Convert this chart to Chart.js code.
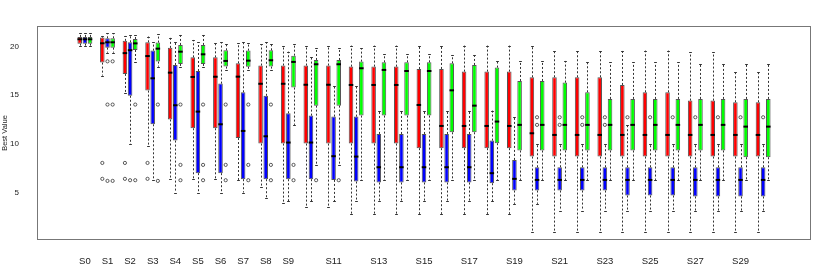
<!DOCTYPE html>
<html>
<head>
<meta charset="utf-8">
<script src="https://cdn.jsdelivr.net/npm/chart.js@4"></script>
<style>
  body { margin: 0; background: #fff; }
  #wrap { width: 830px; height: 273px; }
</style>
</head>
<body>
<div id="wrap"><canvas id="boxChart"></canvas></div>
<script>
/* ===== DATA ===== */
const categories = ["S0","S1","S2","S3","S4","S5","S6","S7","S8","S9","S10","S11","S12","S13","S14","S15",
  "S16","S17","S18","S19","S20","S21","S22","S23","S24","S25","S26","S27","S28","S29","S30"];
const yTicks = [5, 10, 15, 20];

const redLow = [20.0,17.0,15.19,9.8,6.38,6.38,6.42,6.31,5.56,3.99,3.58,3.58,2.83,2.83,2.83,2.83,2.83,2.83,2.83,2.83,
  1.02,1.02,1.02,1.02,1.02,1.02,1.02,1.02,1.02,1.02,1.02];
const redQ1 = [20.27,18.33,17.17,15.46,12.5,11.6,11.6,10.6,10.03,10.03,10.03,10.03,10.03,10.03,10.03,9.56,9.56,9.56,9.56,9.56,
  8.7,8.7,8.7,8.7,8.7,8.7,8.7,8.7,8.7,8.7,8.7];
const redMed = [20.72,20.31,19.3,19.0,17.3,16.86,16.88,16.89,16.16,16.16,16.06,16.06,16.04,16.04,16.04,13.99,11.84,11.84,11.84,11.84,
  11.09,10.92,10.92,10.92,10.92,10.92,10.92,10.92,10.92,10.92,10.92];
const redQ3 = [20.96,20.89,20.56,20.41,19.84,18.87,18.87,18.26,18.03,18.03,18.03,18.03,17.92,17.92,17.92,17.68,17.68,17.41,17.41,17.41,
  16.83,16.83,16.83,16.83,16.04,15.29,15.29,14.44,14.44,14.27,14.27];
const redHigh = [21.33,21.06,21.06,21.0,20.9,20.65,20.31,20.31,20.2,20.07,20.07,20.07,20.07,20.07,20.07,20.07,20.07,20.07,20.07,20.07,
  20.07,19.56,19.56,19.56,19.56,19.56,19.56,19.39,19.39,17.41,17.41];
const redOut = [[],[8.05,6.42],[8.05,6.42],[8.05,6.42],[],[],[],[],[],[],[],[],[],[],[],[],
  [],[],[],[],[],[],[],[],[],[],[],[],[],[],[]];

const blueLow = [20.0,19.35,9.97,6.3,5.02,5.02,5.02,5.02,4.5,4.1,4.1,4.1,4.1,4.1,4.1,4.1,4.1,4.1,4.1,3.86,
  3.86,3.17,3.17,3.17,3.17,3.17,3.17,3.17,3.17,3.17,3.17];
const blueQ1 = [20.27,19.86,14.93,12.01,10.34,7.0,7.0,6.38,6.38,6.38,6.38,6.31,6.14,6.04,6.04,6.04,6.04,6.04,5.97,5.22,
  5.22,5.22,5.22,5.22,4.71,4.71,4.71,4.61,4.61,4.61,4.61];
const blueMed = [20.72,20.41,19.6,16.72,13.96,13.31,12.01,11.33,10.78,10.14,10.14,8.74,8.7,7.61,7.61,7.61,7.61,7.61,7.0,6.42,
  6.31,6.31,6.31,6.31,6.31,6.31,6.31,6.31,6.31,6.31,6.31];
const blueQ3 = [20.96,20.82,20.41,19.56,18.09,17.47,16.18,15.29,14.93,13.14,12.9,12.8,12.8,11.02,11.02,11.02,11.02,11.02,10.34,8.36,
  7.61,7.61,7.61,7.61,7.61,7.61,7.61,7.61,7.61,7.61,7.61];
const blueHigh = [21.33,21.33,21.16,20.41,20.41,20.41,20.41,20.41,20.41,19.45,18.87,15.94,15.94,13.41,13.41,13.41,13.41,13.41,13.41,12.73,
  9.97,9.97,9.97,9.97,11.95,9.97,9.97,9.97,9.97,9.97,9.97];
const blueOut = [[],[18.46,14.03,6.21],[6.28],[],[],[],[],[],[],[],[],[],[],[],[],[],
  [],[],[],[],[12.73,11.95],[12.73,11.95],[12.73,11.95],[12.73,11.95],[12.73],[12.73],[12.73],[12.73],[12.73],[12.73],[12.73]];

const greenLow = [20.0,19.35,18.43,17.92,17.92,17.92,17.58,17.58,17.58,11.95,7.85,7.85,6.31,6.31,6.31,6.31,6.31,6.31,6.31,6.31,
  6.31,6.31,6.31,6.31,6.31,6.31,6.31,6.31,6.31,6.31,6.31];
const greenQ1 = [20.27,19.86,19.62,18.43,18.19,18.19,17.92,17.9,17.92,15.77,13.92,13.92,12.9,12.9,12.9,12.9,11.19,11.19,10.07,9.32,
  9.32,9.32,9.32,9.32,9.32,9.32,9.32,9.32,9.32,8.63,8.63];
const greenMed = [20.72,20.41,20.3,19.76,19.45,19.18,18.5,18.53,18.57,18.4,18.16,18.16,17.75,17.58,17.47,17.47,15.49,13.92,12.29,11.95,
  11.95,11.95,11.95,11.95,11.95,11.95,11.95,11.95,11.95,11.77,11.77];
const greenQ3 = [20.96,20.82,20.75,20.38,20.14,20.14,19.59,19.56,19.59,19.04,18.6,18.6,18.43,18.36,18.36,18.36,18.26,18.09,17.82,16.45,
  16.45,16.28,15.29,14.61,14.61,14.61,14.61,14.61,14.61,14.61,14.61];
const greenHigh = [21.33,21.33,21.16,21.23,21.16,21.16,20.24,20.31,20.24,20.2,19.8,19.8,19.8,19.18,19.18,19.18,19.11,19.11,18.5,18.5,
  18.5,18.5,18.36,18.36,18.36,18.36,18.36,18.19,18.19,18.19,18.19];
const greenOut = [[],[18.46,14.03,6.21],[14.03,6.28],[14.03,6.21],[14.03,7.85,6.28],[14.03,7.85,6.28],[14.03,7.85,6.28],
  [14.03,7.85,6.28],[14.03,7.85,6.28],[7.85,6.28],[6.28],[6.28],[],[],[],[],
  [],[],[],[],[],[],[],[],[],[],[],[],[],[],[]];

/* ===== BOX PLOT ===== */
const series = [
  { color: "#ff0000", low: redLow, q1: redQ1, med: redMed, q3: redQ3, high: redHigh, out: redOut },
  { color: "#0000ff", low: blueLow, q1: blueQ1, med: blueMed, q3: blueQ3, high: blueHigh, out: blueOut },
  { color: "#00ff00", low: greenLow, q1: greenQ1, med: greenMed, q3: greenQ3, high: greenHigh, out: greenOut },
];

// whiskers, staples, medians, outliers and the frame
const boxExtras = {
  id: "boxExtras",
  afterDatasetsDraw(chart) {
    const ctx = chart.ctx;
    const y = chart.scales.y;
    ctx.save();
    series.forEach((s, d) => {
      const meta = chart.getDatasetMeta(d);
      meta.data.forEach((bar, i) => {
        const x = Math.round(bar.x) + 0.5;
        const w = bar.width;
        // whiskers
        ctx.strokeStyle = "#333";
        ctx.lineWidth = 1;
        ctx.setLineDash([2, 2]);
        ctx.beginPath();
        ctx.moveTo(x, y.getPixelForValue(s.q3[i]));
        ctx.lineTo(x, y.getPixelForValue(s.high[i]));
        ctx.moveTo(x, y.getPixelForValue(s.q1[i]));
        ctx.lineTo(x, y.getPixelForValue(s.low[i]));
        ctx.stroke();
        ctx.setLineDash([]);
        // staples
        ctx.beginPath();
        [s.high[i], s.low[i]].forEach((v) => {
          const py = Math.round(y.getPixelForValue(v)) + 0.5;
          ctx.moveTo(x - w * 0.3, py);
          ctx.lineTo(x + w * 0.3, py);
        });
        ctx.stroke();
        // median
        ctx.strokeStyle = "#000";
        ctx.lineWidth = 2;
        ctx.beginPath();
        const my = y.getPixelForValue(s.med[i]);
        ctx.moveTo(bar.x - w / 2, my);
        ctx.lineTo(bar.x + w / 2, my);
        ctx.stroke();
        // outliers
        ctx.strokeStyle = "#333";
        ctx.lineWidth = 0.8;
        s.out[i].forEach((v) => {
          ctx.beginPath();
          ctx.arc(bar.x, y.getPixelForValue(v), 1.6, 0, Math.PI * 2);
          ctx.stroke();
        });
      });
    });
    const a = chart.chartArea;
    ctx.strokeStyle = "#777";
    ctx.lineWidth = 1;
    ctx.strokeRect(a.left + 0.5, a.top + 0.5, a.right - a.left - 1, a.bottom - a.top - 1);
    ctx.restore();
  },
};

const boxCtx = document.getElementById("boxChart");

new Chart(boxCtx, {
  type: "bar",
  data: {
    datasets: series.map((s) => ({
      data: categories.map((c, i) => ({ x: i, y: [s.q1[i], s.q3[i]] })),
      backgroundColor: s.color,
      borderColor: "#555",
      borderWidth: 1,
      borderSkipped: false,
      barPercentage: 0.88,
      categoryPercentage: 0.685,
    })),
  },
  options: {
    responsive: true,
    maintainAspectRatio: false,
    animation: false,
    layout: { padding: { left: 0, right: 19, top: 26, bottom: 0 } },
    plugins: { legend: { display: false }, tooltip: { enabled: false } },
    scales: {
      x: {
        type: "linear",
        min: -1.565,
        max: 31.565,
        grid: { display: false },
        border: { display: false },
        afterBuildTicks: (s) => { s.ticks = categories.map((c, i) => ({ value: i })); },
        afterFit: (s) => { s.height = 33; },
        ticks: {
          autoSkip: false,
          maxRotation: 0,
          padding: 8,
          color: "#222",
          font: { family: "'Liberation Sans', Arial, sans-serif", size: 9.5 },
          callback: (v) => (v < 10 || v % 2 === 1 ? categories[v] : ""),
        },
      },
      y: {
        min: 0.154,
        max: 22.08,
        grid: { display: false },
        border: { display: false },
        afterBuildTicks: (s) => { s.ticks = yTicks.map((v) => ({ value: v })); },
        afterFit: (s) => { s.width = 37; },
        ticks: {
          padding: 10,
          color: "#222",
          font: { family: "'Liberation Sans', Arial, sans-serif", size: 8 },
        },
        title: {
          display: true,
          text: "Best Value",
          padding: 0,
          color: "#222",
          font: { family: "'Liberation Sans', Arial, sans-serif", size: 7.5 },
        },
      },
    },
  },
  plugins: [boxExtras],
});
</script>
</body>
</html>
